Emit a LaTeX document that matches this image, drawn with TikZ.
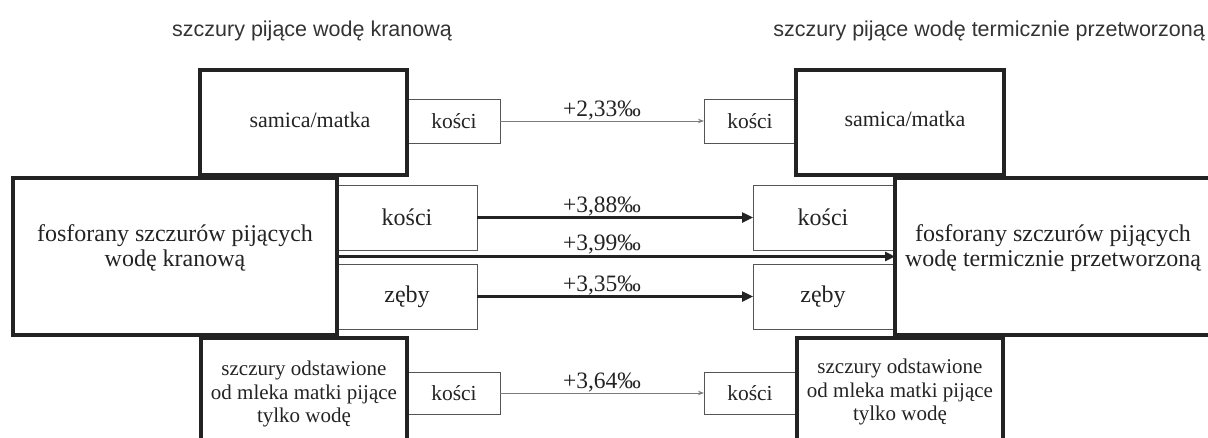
\documentclass[tikz,border=0pt]{standalone}
\usepackage{fontspec}
\setmainfont{Liberation Serif}
\newfontfamily\titlefont{Liberation Sans}
\usetikzlibrary{arrows.meta}
\definecolor{ink}{HTML}{232323}
\definecolor{thinline}{HTML}{555555}
\definecolor{arrowgray}{HTML}{7C7C7C}
\definecolor{titlegray}{HTML}{333333}
\begin{document}
\begin{tikzpicture}[x=1pt,y=-1pt,
  box/.style={rectangle, inner sep=0pt, outer sep=0pt, anchor=north west, text=ink},
  thickbox/.style={box, draw=ink, line width=3.3pt},
  thinbox/.style={box, draw=thinline, line width=1pt},
  smallfont/.style={font=\fontsize{21.5}{24}\selectfont},
  samfont/.style={font=\fontsize{22}{24}\selectfont},
  midfont/.style={font=\fontsize{24}{25}\selectfont},
  botfont/.style={font=\fontsize{21}{23.5}\selectfont},
  txt/.style={inner sep=0pt, align=center, text=ink},
  lbl/.style={font=\fontsize{23.5}{25}\selectfont, text=ink, inner sep=0.5pt, anchor=south},
  thinarrow/.style={draw=arrowgray, line width=1pt, -{Stealth[length=6pt,width=4.5pt]}},
  thickarrow/.style={draw=ink, line width=2.4pt, -{Triangle[length=11pt,width=10pt]}},
  heavyarrow/.style={draw=ink, line width=3pt, -{Triangle[length=10pt,width=9pt]}},
  titletext/.style={font=\titlefont\fontsize{21.5}{24}\selectfont, text=titlegray, inner sep=0pt}
]
\useasboundingbox (0,0) rectangle (1208,437);
\clip (0,0) rectangle (1208,437);

% titles
\node[titletext, anchor=base west] (tL) at (172,36) {szczury pijące wodę kranową};
\node[titletext, anchor=base east] (tR) at (1205,36) {szczury pijące wodę termicznie przetworzoną};

% thin boxes
\node[thinbox, smallfont, minimum width=92pt, minimum height=44pt] (kL1) at (408,99) {kości};
\node[thinbox, smallfont, minimum width=92pt, minimum height=44pt] (kR1) at (704,99) {kości};
\node[thinbox, midfont, minimum width=140pt, minimum height=65pt] (kL2) at (337,185) {kości};
\node[thinbox, midfont, minimum width=140pt, minimum height=65pt] (zL) at (337,264) {zęby};
\node[thinbox, midfont, minimum width=140pt, minimum height=65pt] (kR2) at (753,185) {kości};
\node[thinbox, midfont, minimum width=140pt, minimum height=65pt] (zR) at (753,264) {zęby};
\node[thinbox, smallfont, minimum width=92pt, minimum height=42pt] (kL3) at (408,372) {kości};
\node[thinbox, smallfont, minimum width=92pt, minimum height=42pt] (kR3) at (704,372) {kości};

% thick boxes
\node[thickbox, minimum width=207pt, minimum height=105pt] (samL) at (200,70) {};
\node[thickbox, minimum width=208pt, minimum height=105pt] (samR) at (796,70) {};
\node[thickbox, minimum width=324pt, minimum height=157pt] (mainL) at (13,178) {};
\node[thickbox, minimum width=330pt, minimum height=157pt] (mainR) at (895,178) {};
\node[thickbox, minimum width=206pt, minimum height=120pt] (botL) at (201,338) {};
\node[thickbox, minimum width=206pt, minimum height=120pt] (botR) at (797,338) {};

% texts of the large boxes
\node[txt, samfont, anchor=base] (samLt) at (310,127) {samica/matka};
\node[txt, samfont, anchor=base] (samRt) at (905,126) {samica/matka};
\node[txt, midfont] (mainLt) at (175,248) {fosforany szczurów pijących\\wodę kranową};
\node[txt, midfont] (mainRt) at (1053,248) {fosforany szczurów pijących\\wodę termicznie przetworzoną};
\node[txt, botfont] (botLt) at (304,394) {szczury odstawione\\od mleka matki pijące\\tylko wodę};
\node[txt, botfont] (botRt) at (900,392) {szczury odstawione\\od mleka matki pijące\\tylko wodę};

% connectors
\draw[thinarrow] (kL1) -- node[lbl, pos=0.5] {+2,33‰} (kR1);
\draw[thickarrow] (kL2) -- node[lbl, pos=0.453] {+3,88‰} (kR2);
\draw[heavyarrow] (mainL) -- node[lbl, pos=0.475] {+3,99‰} (mainR);
\draw[thickarrow] (zL) -- node[lbl, pos=0.453] {+3,35‰} (zR);
\draw[thinarrow] (kL3) -- node[lbl, pos=0.5] {+3,64‰} (kR3);
\end{tikzpicture}
\end{document}
